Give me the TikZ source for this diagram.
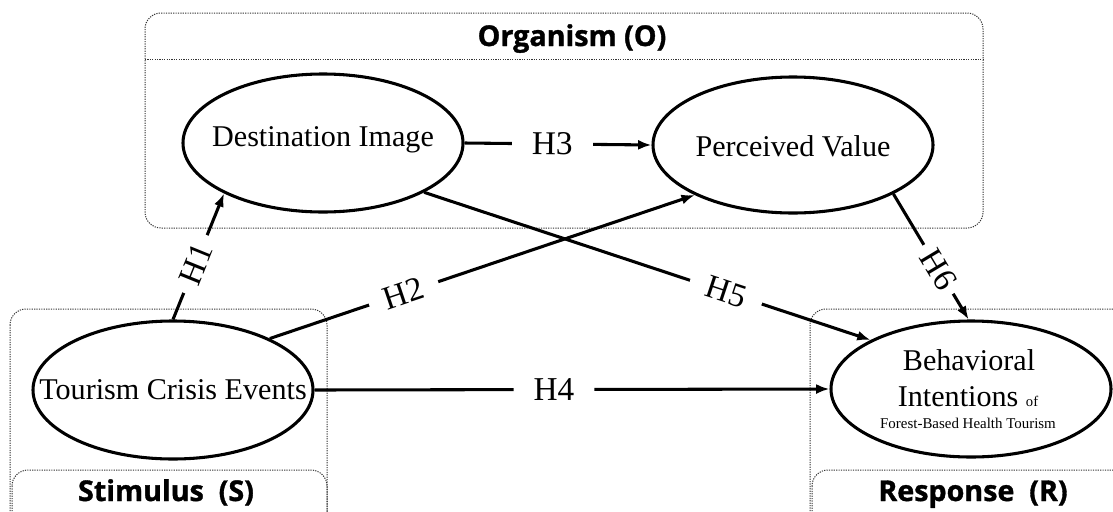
\documentclass[tikz,border=0pt]{standalone}
\usepackage{fontspec}
\setmainfont{Liberation Serif}
\newfontfamily\hdrfont{Open Sans}[BoldFeatures={FakeBold=1.2}]
\usetikzlibrary{shapes.geometric,arrows.meta}
\begin{document}
\begin{tikzpicture}[x=0.75pt,y=-0.75pt,
  grp/.style={draw=black!80, line width=0.75pt, dash pattern=on 0.9pt off 0.9pt, rounded corners=12pt},
  ell/.style={draw, ellipse, line width=2.3pt, minimum width=210pt, minimum height=103.5pt, inner sep=0pt},
  etext/.style={font=\fontsize{22.6}{26}\selectfont, inner sep=0pt},
  hdr/.style={font=\hdrfont\bfseries\fontsize{21.5}{24}\selectfont, inner sep=0pt},
  conn/.style={line width=2.3pt, -{Latex[length=10pt,width=7.5pt]}},
  hlab/.style={font=\fontsize{25}{28}\selectfont, fill=white, inner ysep=1pt, sloped},
]
\useasboundingbox (0,0) rectangle (1113,511);
\clip (0,0) rectangle (1113,511);
\fill[white] (0,0) rectangle (1113,511);

% group boxes
\draw[grp] (145,13) rectangle (983,228);
\draw[grp, rounded corners=0pt] (145,59) -- (983,59);
\node[hdr, anchor=base] (orgt) at (572,46) {Organism (O)};

\draw[grp] (10,309) rectangle (327,545);
\draw[grp] (12,470) rectangle (327,550);
\node[hdr, anchor=base] (stit) at (166,501) {Stimulus~ (S)};

\draw[grp] (810,309) rectangle (1135,545);
\draw[grp] (812,470) rectangle (1135,550);
\node[hdr, anchor=base] (rest) at (973,501) {Response~ (R)};

% ellipses
\node[ell] (di) at (323,143) {};
\node[etext] (dit) at (323,140) {Destination Image};
\node[ell, minimum height=102pt] (pv) at (793,145) {};
\node[etext] (pvt) at (793,146) {Perceived Value};
\node[ell] (tce) at (173,390) {};
\node[etext] (tcet) at (173,390) {Tourism Crisis Events};
\node[ell, minimum height=102pt] (bi) at (971,389) {};
\node[etext, anchor=base] (bi1) at (969,370) {Behavioral};
\node[etext, anchor=base] (bi2) at (968,406) {Intentions {\fontsize{11}{13}\selectfont of}};
\node[inner sep=0pt, anchor=base, font=\fontsize{11.2}{13}\selectfont] (bi3) at (968,428) {Forest-Based Health Tourism};

% connectors
\draw[conn] (tce.90) -- node[hlab, pos=0.44, inner xsep=8pt] {H1} (di.207);
\draw[conn] (tce.28) -- node[hlab, pos=0.315, inner xsep=12pt] {H2} (pv.207);
\draw[conn] (di.east) -- node[hlab, pos=0.47, inner xsep=15pt] {H3} (pv.west);
\draw[conn] (tce.east) -- node[hlab, pos=0.465, inner xsep=15pt] {H4} (bi.west);
\draw[conn] (di.334) -- node[hlab, pos=0.676, inner xsep=13pt] {H5} (bi.154);
\draw[conn] (pv.334) -- node[hlab, pos=0.6, inner xsep=6pt] {H6} (bi.92);
\end{tikzpicture}
\end{document}
